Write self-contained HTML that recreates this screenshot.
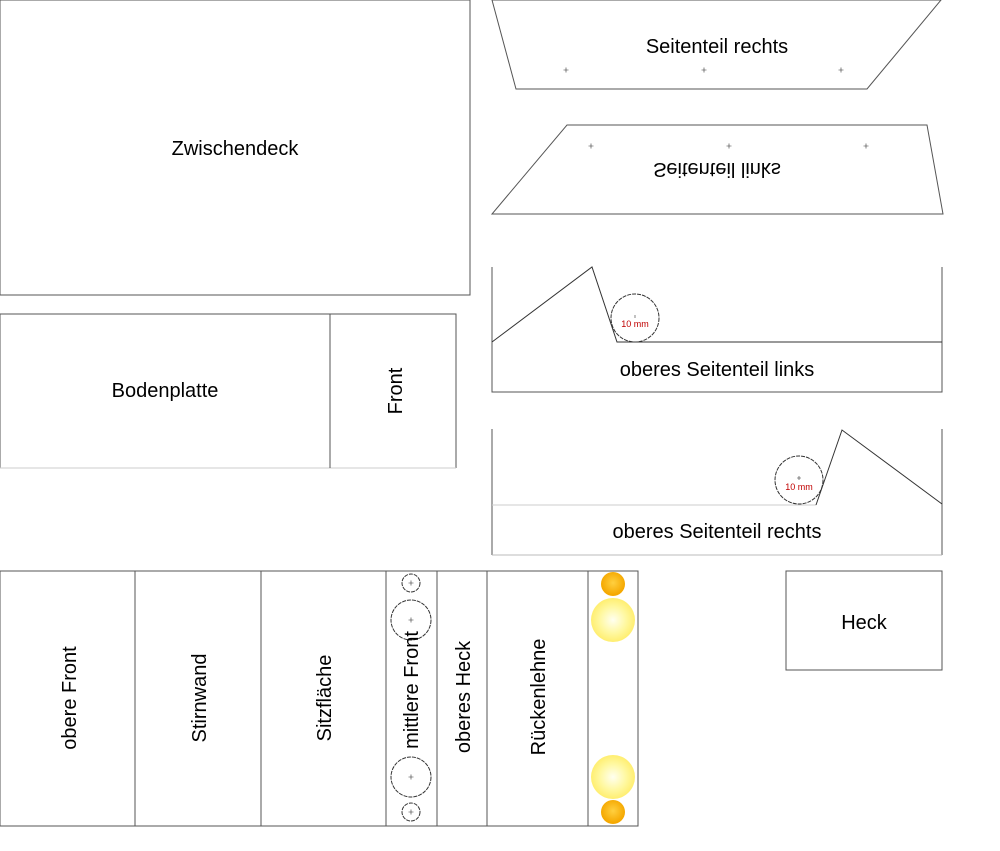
<!DOCTYPE html>
<html><head><meta charset="utf-8"><style>
html,body{margin:0;padding:0;background:#fff;}
svg{display:block;}
text{font-family:"Liberation Sans",sans-serif;}
</style></head><body>
<svg width="1000" height="851" viewBox="0 0 1000 851" xmlns="http://www.w3.org/2000/svg">
<defs>
<radialGradient id="big" cx="50%" cy="50%" r="50%"><stop offset="0" stop-color="#fffff0"/><stop offset="0.6" stop-color="#fff8a0"/><stop offset="1" stop-color="#ffee70"/></radialGradient>
<radialGradient id="small" cx="50%" cy="45%" r="50%"><stop offset="0" stop-color="#ffd040"/><stop offset="1" stop-color="#f5a800"/></radialGradient>
</defs>
<g fill="none" stroke="#555" stroke-width="1">
<polyline points="0,0 470,0 470,295 0,295 0,0"/>
<polyline points="0,468 0,314 456,314 456,468"/>
<line x1="0" y1="468" x2="456" y2="468" stroke="#ccc"/>
<line x1="330" y1="314" x2="330" y2="468"/>
<polygon points="492,0 941,0 867,89 516,89"/>
<polygon points="567,125 927,125 943,214 492,214"/>
<polyline points="492,267 492,392 942,392 942,267"/>
<polyline points="492,342 592,267 617,342 942,342" stroke="#333"/>
<circle cx="635" cy="318" r="24" stroke="#333" stroke-dasharray="4,1"/>
<line x1="492" y1="429" x2="492" y2="555"/>
<line x1="942" y1="429" x2="942" y2="555"/>
<line x1="492" y1="555" x2="942" y2="555" stroke="#bbb"/>
<line x1="492" y1="505" x2="816" y2="505" stroke="#ccc"/>
<polyline points="816,505 842,430 942,504" stroke="#333"/>
<circle cx="799" cy="480" r="24" stroke="#333" stroke-dasharray="4,1"/>
<rect x="786" y="571" width="156" height="99"/>
<rect x="0" y="571" width="638" height="255"/>
<line x1="135" y1="571" x2="135" y2="826"/>
<line x1="261" y1="571" x2="261" y2="826"/>
<line x1="386" y1="571" x2="386" y2="826"/>
<line x1="437" y1="571" x2="437" y2="826"/>
<line x1="487" y1="571" x2="487" y2="826"/>
<line x1="588" y1="571" x2="588" y2="826"/>
<g stroke="#333" stroke-dasharray="4,1">
<circle cx="411" cy="583" r="9"/>
<circle cx="411" cy="620" r="20"/>
<circle cx="411" cy="777" r="20"/>
<circle cx="411" cy="812" r="9"/>
</g>
</g>
<g stroke="#333" stroke-width="0.6">
<path d="M563.5 70h5M566 67.5v5 M701.5 70h5M704 67.5v5 M838.5 70h5M841 67.5v5"/>
<path d="M588.5 146h5M591 143.5v5 M726.5 146h5M729 143.5v5 M863.5 146h5M866 143.5v5"/>
<path d="M408.5 583h5M411 580.5v5 M408.5 620h5M411 617.5v5 M408.5 777h5M411 774.5v5 M408.5 812h5M411 809.5v5"/>
<path d="M635 315v3 M797 478h4M799 476v4"/>
</g>
<circle cx="613" cy="584" r="12" fill="url(#small)"/>
<circle cx="613" cy="620" r="22" fill="url(#big)"/>
<circle cx="613" cy="777" r="22" fill="url(#big)"/>
<circle cx="613" cy="812" r="12" fill="url(#small)"/>
<g font-size="20" fill="#000" text-anchor="middle">
<text x="235" y="155">Zwischendeck</text>
<text x="165" y="397">Bodenplatte</text>
<text transform="translate(402,391) rotate(-90)">Front</text>
<text x="717" y="53">Seitenteil rechts</text>
<text transform="translate(717,163) scale(1,-1)">Seitenteil links</text>
<text x="717" y="376">oberes Seitenteil links</text>
<text x="717" y="538">oberes Seitenteil rechts</text>
<text x="864" y="629">Heck</text>
<text transform="translate(76,698) rotate(-90)">obere Front</text>
<text transform="translate(206,698) rotate(-90)">Stirnwand</text>
<text transform="translate(331,698) rotate(-90)">Sitzfläche</text>
<text transform="translate(418,690) rotate(-90)">mittlere Front</text>
<text transform="translate(470,697) rotate(-90)">oberes Heck</text>
<text transform="translate(545,697) rotate(-90)">Rückenlehne</text>
</g>
<g font-size="9" fill="#c00000" text-anchor="middle">
<text x="635" y="327">10 mm</text>
<text x="799" y="490">10 mm</text>
</g>
</svg>
</body></html>
